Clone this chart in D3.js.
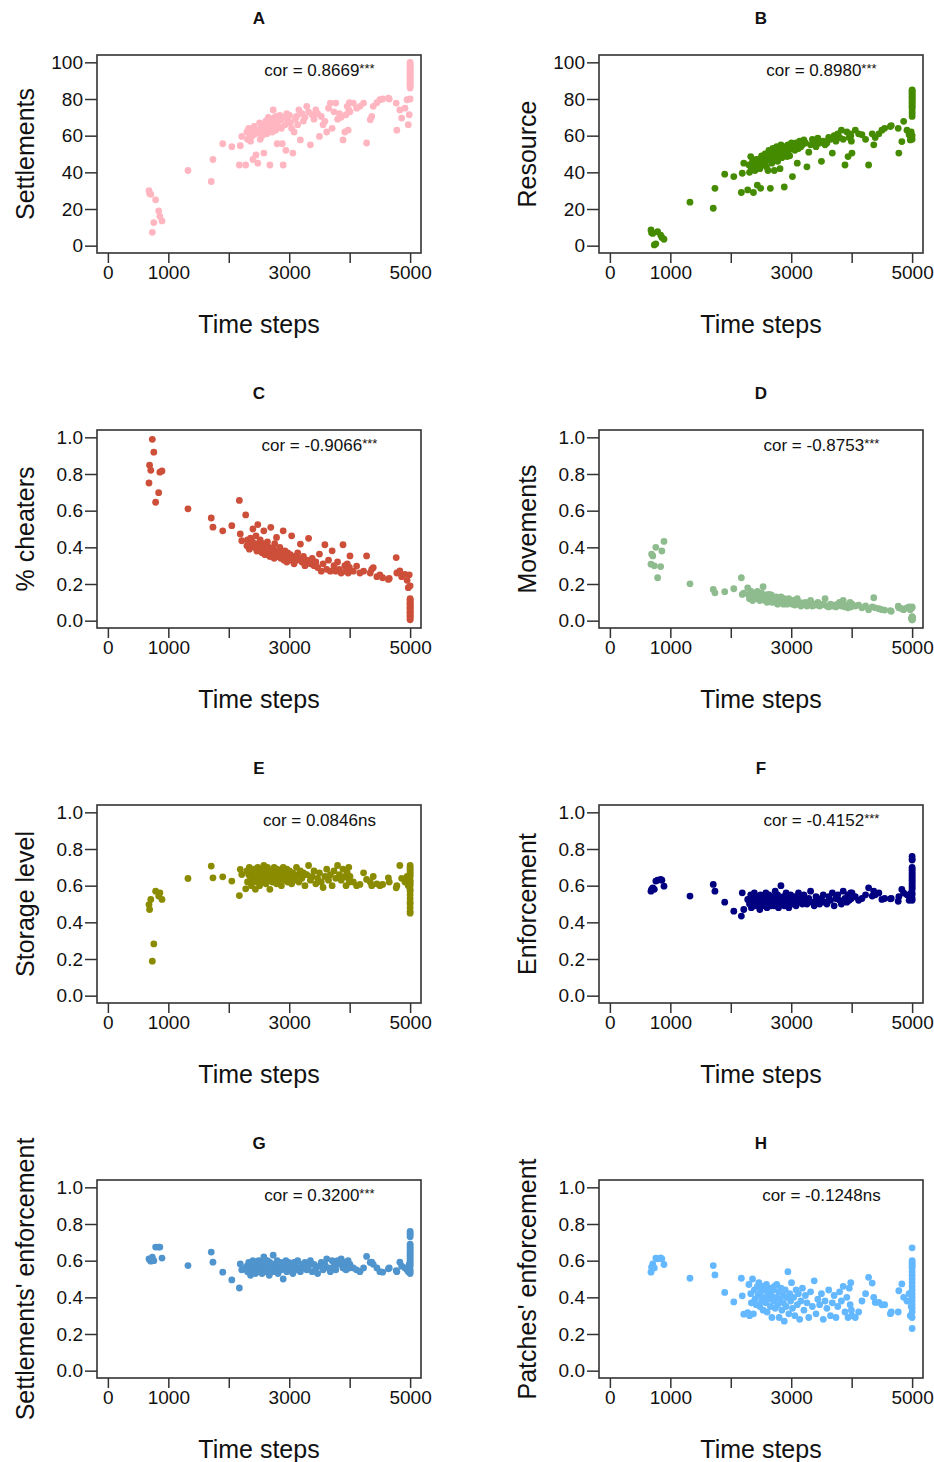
<!DOCTYPE html>
<html>
<head>
<meta charset="utf-8">
<script src="https://cdn.jsdelivr.net/npm/d3@7"></script>
<style>
  body { margin: 0; background: #fff; }
  text { font-family: "Liberation Sans", Arial, sans-serif; fill: #111; }
</style>
</head>
<body>
<div id="chart"></div>
<script>
// time step of each run (shared by all eight panels)
var timeSteps = [
  680, 690, 710, 735, 760, 790, 840, 860, 895,
  1325, 1710, 1738, 1900, 2050, 2175, 2190, 2215, 2280,
  2300, 2310, 2330, 2340, 2360, 2375, 2390, 2400, 2420, 2440,
  2450, 2465, 2480, 2495, 2510, 2520, 2535, 2550, 2565, 2580,
  2590, 2600, 2615, 2630, 2640, 2655, 2670, 2680, 2695, 2710,
  2720, 2735, 2750, 2760, 2775, 2790, 2800, 2815, 2830, 2845,
  2860, 2870, 2885, 2900, 2915, 2930, 2945, 2960, 2975, 2990,
  3005, 3020, 3040, 3060, 3080, 3100, 3120, 3140, 3160, 3185,
  3210, 3235, 3260, 3290, 3320, 3350, 3380, 3410, 3440, 3470,
  3500, 3530, 3560, 3590, 3620, 3650, 3680, 3710, 3740, 3770,
  3800, 3830, 3860, 3890, 3920, 3940, 3960, 3975, 3985, 3995,
  4005, 4060, 4115, 4170, 4230, 4280, 4340, 4365, 4390, 4450, 4500,
  4545, 4640, 4655, 4770, 4780, 4830, 4860, 4915, 4950, 4970, 4985,
  5000, 5000, 5000, 5000, 5000, 5000, 5000, 5000, 5000, 5000,
  5000, 5000, 5000, 5000, 5000, 5000, 5000, 5000, 5000, 5000
];

var settlements = [
  30, 28.5, 28, 7.3, 12.6, 25, 19, 16, 13.5,
  41, 35, 47, 55.6, 54, 44, 54.5, 59.6, 44,
  62, 58, 64, 61, 57, 63, 60, 47, 65, 61,
  49.5, 63, 45, 62, 67, 58, 64, 60, 66, 50.5,
  63, 65, 68, 61, 66, 70, 64, 44, 67, 69,
  62, 74, 66, 70, 63, 70.5, 55.6, 68, 65, 71,
  68.7, 64, 55.6, 44, 70, 66, 52, 72, 69, 67,
  71, 67, 64, 50.5, 62, 69, 70.5, 66, 74, 57.7,
  72, 68, 70, 76, 73, 55, 71.4, 69, 74, 72,
  59.6, 70.5, 66, 67.8, 62, 75, 77.8, 64, 73, 77.8,
  69, 72, 70, 57.7, 62, 71.4, 76, 63, 74, 78,
  73, 77.8, 75, 76, 77.8, 56, 68.7, 70.5, 76, 78, 79.6,
  80, 80.5, 80, 77.8, 63, 74, 69.6, 75, 79.6, 66, 71.4,
  100, 99, 98.5, 97.5, 97, 96, 95, 94.5, 93.5, 93,
  92, 91, 90.5, 89.5, 89, 88, 87.5, 87, 86, 80
];

var resource = [
  8.6, 7, 6.7, 0.4, 1, 7.6, 5.8, 4.5, 3.5,
  23.7, 20.4, 31.3, 39, 37.7, 29, 39.5, 45, 30.4,
  44, 40, 48.6, 42, 46, 29, 44, 41, 47, 33,
  45, 47, 42, 31.3, 49, 44, 48, 46, 50, 46,
  43, 49, 41, 52, 47, 31.3, 50, 45, 53, 48,
  41, 51, 49, 54, 46, 52, 50, 42, 55, 48,
  51, 53, 32, 54, 50, 48.6, 55, 52, 49, 53,
  56, 37.7, 54, 52, 56, 45, 53, 57, 54, 55,
  57.7, 56, 43, 51, 55, 58, 57, 54, 58.6, 56,
  46, 57, 55, 56, 59, 58, 50.5, 60, 57, 61,
  59, 63, 58, 44, 62, 48.6, 59, 61, 60, 57,
  50.5, 63, 61, 60.5, 58, 44, 61, 55, 59, 61, 63,
  64, 65, 65.5, 64, 50.5, 56.8, 67.8, 63, 60.5, 57.7, 62,
  85, 84.5, 84, 83, 82.5, 81.5, 81, 80, 79.5, 78.5,
  78, 77, 76, 75.5, 74.5, 73, 72, 70.5, 60, 58
];

var cheaters = [
  0.751, 0.848, 0.82, 0.989, 0.919, 0.646, 0.698, 0.81, 0.817,
  0.61, 0.56, 0.51, 0.49, 0.518, 0.656, 0.473, 0.436, 0.577,
  0.408, 0.44, 0.42, 0.39, 0.45, 0.41, 0.43, 0.5, 0.4, 0.42,
  0.463, 0.38, 0.524, 0.41, 0.39, 0.44, 0.4, 0.37, 0.42, 0.49,
  0.39, 0.36, 0.41, 0.38, 0.43, 0.37, 0.4, 0.35, 0.509, 0.38,
  0.36, 0.39, 0.34, 0.42, 0.37, 0.454, 0.35, 0.38, 0.36, 0.4,
  0.34, 0.37, 0.35, 0.49, 0.33, 0.38, 0.36, 0.32, 0.37, 0.35,
  0.33, 0.36, 0.463, 0.34, 0.31, 0.35, 0.33, 0.37, 0.34, 0.418,
  0.32, 0.35, 0.3, 0.33, 0.449, 0.31, 0.34, 0.3, 0.32, 0.29,
  0.363, 0.27, 0.31, 0.414, 0.28, 0.33, 0.27, 0.381, 0.3, 0.27,
  0.32, 0.28, 0.26, 0.414, 0.3, 0.27, 0.31, 0.26, 0.28, 0.29,
  0.353, 0.27, 0.298, 0.26, 0.27, 0.353, 0.26, 0.28, 0.289, 0.24, 0.25,
  0.234, 0.225, 0.23, 0.344, 0.26, 0.271, 0.24, 0.253, 0.22, 0.18, 0.25,
  0.12, 0.115, 0.11, 0.1, 0.095, 0.09, 0.08, 0.075, 0.07, 0.065,
  0.06, 0.05, 0.045, 0.04, 0.03, 0.025, 0.02, 0.01, 0.005, 0.19
];

var movements = [
  0.308, 0.363, 0.353, 0.299, 0.4, 0.234, 0.295, 0.38, 0.432,
  0.201, 0.17, 0.152, 0.158, 0.174, 0.234, 0.143, 0.15, 0.179,
  0.14, 0.12, 0.161, 0.13, 0.11, 0.15, 0.12, 0.14, 0.13, 0.16,
  0.12, 0.14, 0.11, 0.13, 0.15, 0.12, 0.185, 0.13, 0.11, 0.14,
  0.12, 0.1, 0.13, 0.143, 0.11, 0.12, 0.14, 0.1, 0.13, 0.11,
  0.12, 0.1, 0.13, 0.11, 0.09, 0.12, 0.1, 0.11, 0.13, 0.1,
  0.11, 0.09, 0.12, 0.1, 0.11, 0.09, 0.1, 0.12, 0.095, 0.11,
  0.1, 0.09, 0.11, 0.085, 0.1, 0.12, 0.09, 0.1, 0.08, 0.095,
  0.09, 0.1, 0.08, 0.09, 0.11, 0.08, 0.09, 0.085, 0.1, 0.08,
  0.085, 0.09, 0.12, 0.08, 0.075, 0.09, 0.08, 0.085, 0.075, 0.09,
  0.1, 0.08, 0.11, 0.075, 0.085, 0.07, 0.08, 0.1, 0.075, 0.085,
  0.09, 0.08, 0.085, 0.07, 0.08, 0.06, 0.075, 0.125, 0.07, 0.065, 0.06,
  0.058, 0.055, 0.051, 0.079, 0.07, 0.065, 0.06, 0.07, 0.075, 0.06, 0.07,
  0.005, 0.01, 0.015, 0.02, 0.008, 0.012, 0.018, 0.006, 0.014, 0.01,
  0.02, 0.015, 0.012, 0.008, 0.005, 0.01, 0.016, 0.02, 0.07, 0.075
];

var storage = [
  0.497, 0.47, 0.525, 0.188, 0.282, 0.57, 0.543, 0.56, 0.525,
  0.639, 0.707, 0.643, 0.648, 0.625, 0.546, 0.689, 0.661, 0.583,
  0.68, 0.62, 0.66, 0.7, 0.64, 0.6, 0.67, 0.63, 0.69, 0.58,
  0.65, 0.62, 0.7, 0.67, 0.6, 0.64, 0.68, 0.66, 0.62, 0.71,
  0.64, 0.69, 0.61, 0.66, 0.7, 0.63, 0.67, 0.58, 0.65, 0.68,
  0.62, 0.66, 0.7, 0.64, 0.67, 0.61, 0.69, 0.65, 0.63, 0.68,
  0.66, 0.6, 0.64, 0.7, 0.67, 0.63, 0.65, 0.69, 0.62, 0.66,
  0.68, 0.64, 0.61, 0.67, 0.65, 0.63, 0.7, 0.66, 0.62, 0.68,
  0.64, 0.67, 0.6, 0.66, 0.71, 0.63, 0.65, 0.68, 0.61, 0.64,
  0.67, 0.62, 0.59, 0.65, 0.69, 0.63, 0.66, 0.6, 0.68, 0.64,
  0.71, 0.66, 0.63, 0.69, 0.65, 0.6, 0.67, 0.64, 0.7, 0.62,
  0.65, 0.62, 0.6, 0.607, 0.67, 0.634, 0.62, 0.6, 0.65, 0.61, 0.6,
  0.607, 0.643, 0.62, 0.588, 0.6, 0.71, 0.64, 0.62, 0.65, 0.6, 0.63,
  0.71, 0.7, 0.69, 0.68, 0.67, 0.66, 0.65, 0.63, 0.62, 0.61,
  0.6, 0.58, 0.57, 0.55, 0.53, 0.51, 0.5, 0.48, 0.46, 0.45
];

var enforcement = [
  0.57, 0.579, 0.588, 0.58, 0.625, 0.63, 0.634, 0.63, 0.597,
  0.543, 0.607, 0.57, 0.51, 0.461, 0.434, 0.561, 0.47, 0.525,
  0.52, 0.5, 0.55, 0.48, 0.53, 0.51, 0.56, 0.49, 0.52, 0.54,
  0.5, 0.53, 0.47, 0.55, 0.51, 0.49, 0.54, 0.52, 0.5, 0.56,
  0.53, 0.48, 0.51, 0.55, 0.5, 0.52, 0.49, 0.54, 0.51, 0.53,
  0.49, 0.57, 0.52, 0.5, 0.55, 0.48, 0.53, 0.51, 0.6, 0.5,
  0.52, 0.54, 0.49, 0.51, 0.56, 0.5, 0.53, 0.48, 0.52, 0.55,
  0.51, 0.53, 0.5, 0.54, 0.49, 0.52, 0.56, 0.51, 0.53, 0.5,
  0.55, 0.52, 0.5, 0.53, 0.57, 0.51, 0.49, 0.54, 0.52, 0.5,
  0.53, 0.55, 0.51, 0.5, 0.54, 0.52, 0.56, 0.49, 0.53, 0.55,
  0.52, 0.5, 0.57, 0.53, 0.51, 0.55, 0.52, 0.54, 0.56, 0.53,
  0.56, 0.54, 0.52, 0.53, 0.55, 0.588, 0.543, 0.57, 0.55, 0.56, 0.525,
  0.53, 0.528, 0.53, 0.515, 0.54, 0.579, 0.56, 0.55, 0.52, 0.54, 0.56,
  0.76, 0.745, 0.74, 0.7, 0.69, 0.68, 0.67, 0.66, 0.65, 0.64,
  0.63, 0.62, 0.61, 0.6, 0.59, 0.58, 0.56, 0.55, 0.53, 0.52
];

var settlementEnf = [
  0.61, 0.605, 0.597, 0.619, 0.6, 0.674, 0.674, 0.674, 0.614,
  0.573, 0.647, 0.592, 0.537, 0.495, 0.451, 0.582, 0.55, 0.56,
  0.57, 0.54, 0.59, 0.56, 0.52, 0.58, 0.55, 0.6, 0.56, 0.53,
  0.58, 0.55, 0.57, 0.6, 0.54, 0.56, 0.59, 0.53, 0.57, 0.62,
  0.55, 0.58, 0.56, 0.54, 0.6, 0.57, 0.52, 0.59, 0.55, 0.58,
  0.56, 0.63, 0.54, 0.58, 0.57, 0.55, 0.6, 0.53, 0.58, 0.56,
  0.59, 0.55, 0.57, 0.5, 0.58, 0.56, 0.6, 0.54, 0.57, 0.59,
  0.55, 0.58, 0.56, 0.53, 0.59, 0.57, 0.55, 0.6, 0.56, 0.54,
  0.58, 0.56, 0.59, 0.55, 0.57, 0.6, 0.54, 0.58, 0.56, 0.53,
  0.57, 0.59, 0.55, 0.58, 0.61, 0.56, 0.54, 0.6, 0.57, 0.55,
  0.6, 0.58, 0.61, 0.56, 0.59, 0.55, 0.58, 0.6, 0.57, 0.56,
  0.58, 0.56, 0.55, 0.54, 0.56, 0.623, 0.59, 0.592, 0.58, 0.56, 0.54,
  0.537, 0.555, 0.56, 0.546, 0.54, 0.592, 0.57, 0.56, 0.55, 0.54, 0.58,
  0.76, 0.75, 0.74, 0.73, 0.69, 0.68, 0.67, 0.66, 0.65, 0.64,
  0.63, 0.62, 0.61, 0.6, 0.59, 0.58, 0.57, 0.55, 0.54, 0.53
];

var patchEnf = [
  0.537, 0.564, 0.582, 0.56, 0.614, 0.61, 0.615, 0.61, 0.579,
  0.504, 0.573, 0.522, 0.427, 0.375, 0.504, 0.408, 0.308, 0.317,
  0.47, 0.3, 0.42, 0.37, 0.5, 0.31, 0.44, 0.39, 0.36, 0.46,
  0.41, 0.48, 0.35, 0.43, 0.38, 0.46, 0.33, 0.4, 0.44, 0.37,
  0.47, 0.32, 0.42, 0.39, 0.45, 0.35, 0.41, 0.29, 0.44, 0.38,
  0.46, 0.34, 0.4, 0.47, 0.36, 0.43, 0.29, 0.39, 0.45, 0.33,
  0.41, 0.37, 0.27, 0.44, 0.35, 0.4, 0.54, 0.31, 0.42, 0.38,
  0.48, 0.34, 0.4, 0.3, 0.44, 0.36, 0.42, 0.28, 0.38, 0.45,
  0.33, 0.41, 0.37, 0.29, 0.43, 0.35, 0.49, 0.31, 0.39, 0.36,
  0.42, 0.28, 0.38, 0.34, 0.44, 0.3, 0.37, 0.41, 0.29, 0.35,
  0.43, 0.38, 0.46, 0.32, 0.4, 0.29, 0.45, 0.36, 0.48, 0.33,
  0.3, 0.29, 0.32, 0.38, 0.42, 0.509, 0.478, 0.4, 0.372, 0.372, 0.359,
  0.36, 0.311, 0.32, 0.32, 0.436, 0.473, 0.4, 0.38, 0.42, 0.3, 0.35,
  0.67, 0.6, 0.59, 0.58, 0.57, 0.56, 0.54, 0.52, 0.5, 0.48,
  0.46, 0.44, 0.42, 0.4, 0.38, 0.36, 0.34, 0.32, 0.29, 0.23
];

var panelIds = ["A", "B", "C", "D", "E", "F", "G", "H"];
var yLabels = ["Settlements", "Resource", "% cheaters", "Movements",
               "Storage level", "Enforcement", "Settlements' enforcement", "Patches' enforcement"];
var corValues = ["0.8669", "0.8980", "-0.9066", "-0.8753", "0.0846", "-0.4152", "0.3200", "-0.1248"];
var corSig = ["***", "***", "***", "***", "ns", "***", "***", "ns"];
var colors = ["#FFB6C1", "#458B00", "#CD4F39", "#8FBC8F", "#8B8B00", "#000080", "#4F94CD", "#63B8FF"];
var series = [settlements, resource, cheaters, movements, storage, enforcement, settlementEnf, patchEnf];
var xTicks = [0, 1000, 2000, 3000, 4000, 5000];

var width = 934, height = 1462;
var boxW = 324, boxH = 198;
var left0 = 97, top0 = 55, colStep = 502, rowStep = 375;

var svg = d3.select("#chart").append("svg")
    .attr("width", width)
    .attr("height", height);

var x = d3.scaleLinear().domain([-180, 5180]).range([0, boxW]);

series.forEach(function(vals, i) {
    var col = i % 2, row = Math.floor(i / 2);
    var big = i < 2; // first row is on a 0-100 scale
    var yMax = big ? 100 : 1;
    var y = d3.scaleLinear().domain([-0.04 * yMax, 1.04 * yMax]).range([boxH, 0]);

    var g = svg.append("g")
        .attr("transform", "translate(" + (left0 + col * colStep) + "," + (top0 + row * rowStep) + ")");

    // x axis: only 0, 1000, 3000, 5000 get labels
    var xAxis = g.append("g")
        .attr("transform", "translate(0," + boxH + ")")
        .call(d3.axisBottom(x).tickValues(xTicks).tickSize(10).tickPadding(3)
            .tickFormat(function(d) { return (d === 2000 || d === 4000) ? "" : d; }));

    var yAxis = g.append("g")
        .call(d3.axisLeft(y).tickValues(d3.range(0, 6).map(function(k) { return k * yMax / 5; }))
            .tickSize(12).tickPadding(2)
            .tickFormat(big ? d3.format("d") : d3.format(".1f")));

    [xAxis, yAxis].forEach(function(a) {
        a.select(".domain").remove();
        a.selectAll("line").attr("stroke", "#333").attr("stroke-width", 1.5);
        a.selectAll("text").attr("font-size", 19).attr("fill", "#111")
            .style("font-family", "'Liberation Sans', Arial, sans-serif");
    });

    g.selectAll("circle")
        .data(d3.zip(timeSteps, vals))
        .enter()
        .append("circle")
        .attr("cx", function(d) { return x(d[0]); })
        .attr("cy", function(d) { return y(d[1]); })
        .attr("r", 3.4)
        .attr("fill", colors[i]);

    g.append("rect")
        .attr("width", boxW)
        .attr("height", boxH)
        .attr("fill", "none")
        .attr("stroke", "#333")
        .attr("stroke-width", 1.6);

    // correlation note
    var cor = g.append("text")
        .attr("x", x(3500))
        .attr("y", y(0.958 * yMax))
        .attr("dy", "0.35em")
        .attr("text-anchor", "middle")
        .attr("font-size", 17);
    cor.append("tspan").text("cor = " + corValues[i]);
    if (corSig[i] === "***")
        cor.append("tspan").attr("font-size", 13).attr("dy", -3).text(corSig[i]);
    else
        cor.append("tspan").text(corSig[i]);

    g.append("text")
        .attr("x", boxW / 2)
        .attr("y", -31)
        .attr("text-anchor", "middle")
        .attr("font-size", 17)
        .attr("font-weight", "bold")
        .text(panelIds[i]);

    g.append("text")
        .attr("x", boxW / 2)
        .attr("y", boxH + 80)
        .attr("text-anchor", "middle")
        .attr("font-size", 25)
        .text("Time steps");

    g.append("text")
        .attr("transform", "translate(-63," + (boxH / 2) + ") rotate(-90)")
        .attr("text-anchor", "middle")
        .attr("font-size", 25)
        .text(yLabels[i]);
});
</script>
</body>
</html>
